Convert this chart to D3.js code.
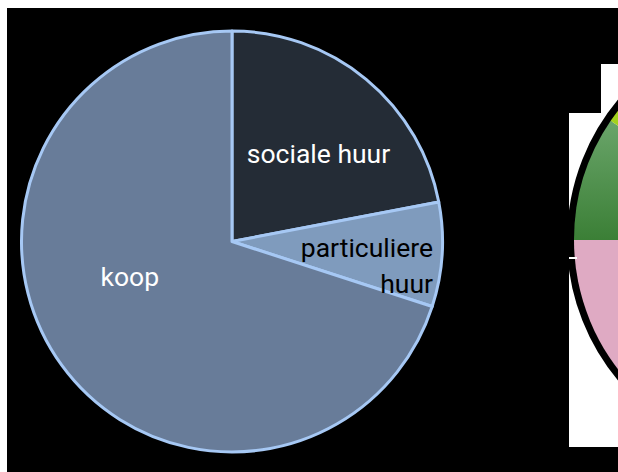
<!DOCTYPE html>
<html>
<head>
<meta charset="utf-8">
<script src="https://cdn.jsdelivr.net/npm/d3@7"></script>
<style>
  body { margin: 0; background: #fff; }
  svg { display: block; }
</style>
</head>
<body>
<div id="svgcontainer"></div>
<script>
// woningvoorraad naar eigendom (aandeel, %)
var categories = ["sociale huur", "particuliere huur", "koop"];
var values = [22, 8, 70];
var sliceColors = ["#242c36", "#7f9bbd", "#687c99"];
var labelColors = ["#ffffff", "#000000", "#ffffff"];

// second (cropped) pie on the right edge
var sideCats = ["roze", "groen", "geelgroen"];
var sideValues = [25, 9.5, 65.5];

var width = 618, height = 472;

var svg = d3.select("#svgcontainer")
    .append("svg")
    .attr("width", width)
    .attr("height", height);

// black backdrop
svg.append("rect")
  .attr("x", 7).attr("y", 8)
  .attr("width", width - 7).attr("height", height - 8)
  .style("fill", "#000");

// ---- right side: white cards + partial pie ----
svg.append("rect")
  .attr("x", 601).attr("y", 64)
  .attr("width", 17).attr("height", 383)
  .style("fill", "#fff");
svg.append("rect")
  .attr("x", 569).attr("y", 113)
  .attr("width", 49).attr("height", 334)
  .style("fill", "#fff");

var defs = svg.append("defs");
var grad = defs.append("linearGradient")
  .attr("id", "greenGrad")
  .attr("x1", 0).attr("y1", 0).attr("x2", 0).attr("y2", 1);
grad.append("stop").attr("offset", "0%").attr("stop-color", "#6aa56a");
grad.append("stop").attr("offset", "100%").attr("stop-color", "#3b7f36");

var sideR = 212;
var side = svg.append("g").attr("transform", "translate(786,240)");

side.append("circle")
  .attr("r", sideR + 3)
  .style("fill", "none")
  .style("stroke", "#000")
  .style("stroke-width", 8);

var sidePie = d3.pie().sort(null).startAngle(Math.PI).endAngle(3 * Math.PI);
var sideArc = d3.arc().innerRadius(0).outerRadius(sideR);
var sideFill = ["#dfaac3", "url(#greenGrad)", "#a3d11c"];

side.selectAll("path.side")
  .data(sidePie(sideValues))
  .enter().append("path")
  .attr("class", "side")
  .attr("d", sideArc)
  .style("fill", function(d, i){ return sideFill[i]; });

// little white notch on the outline
svg.append("rect")
  .attr("x", 569).attr("y", 257)
  .attr("width", 8).attr("height", 2)
  .style("fill", "#fff");

// ---- main pie ----
var cx = 232, cy = 241.5, r = 210.5;
var g = svg.append("g").attr("transform", "translate(" + cx + "," + cy + ")");

var pie = d3.pie().sort(null);
var arc = d3.arc().innerRadius(0).outerRadius(r);
var arcs = pie(values);

g.selectAll("path.slice")
  .data(arcs)
  .enter().append("path")
  .attr("class", "slice")
  .attr("d", arc)
  .style("fill", function(d, i){ return sliceColors[i]; })
  .style("stroke", "#a6c8f4")
  .style("stroke-width", 3)
  .style("stroke-linejoin", "round");

// labels, placed from the centroid of a label arc and nudged
var labelArc = d3.arc().innerRadius(r * 0.6).outerRadius(r * 0.6);
var nudge = [[6, 19], [75, 8], [0, -30]];
var fontSize = 26.5;

arcs.forEach(function(d, i){
  var c = labelArc.centroid(d);
  var x = c[0] + nudge[i][0], y = c[1] + nudge[i][1];
  var t = g.append("text")
    .attr("x", x)
    .attr("y", y)
    .style("font-family", "Roboto, 'Noto Sans', sans-serif")
    .style("font-size", fontSize + "px")
    .style("fill", labelColors[i]);
  if (i === 1) {
    var words = categories[i].split(" ");
    t.attr("text-anchor", "end");
    t.append("tspan").attr("x", x).attr("y", y).text(words[0]);
    t.append("tspan").attr("x", x).attr("y", y + 36).text(words[1]);
  } else {
    t.attr("text-anchor", "middle").text(categories[i]);
  }
});
</script>
</body>
</html>
